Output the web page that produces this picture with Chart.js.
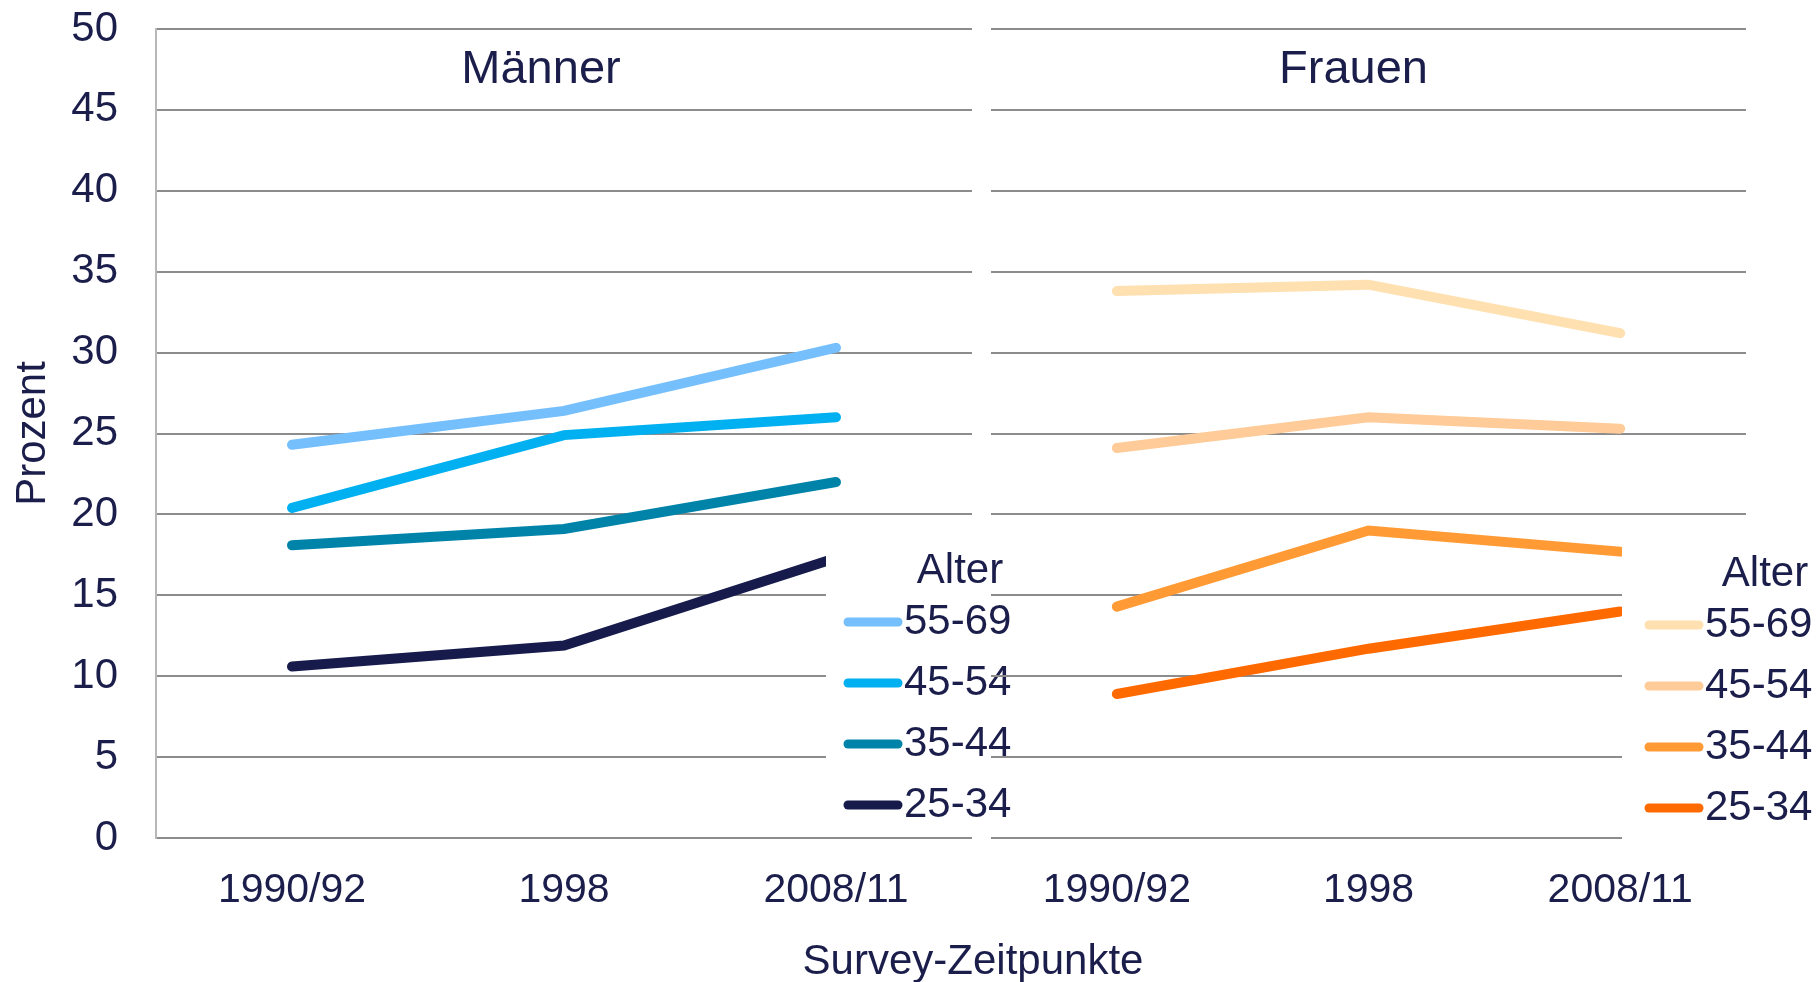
<!DOCTYPE html>
<html>
<head>
<meta charset="UTF-8">
<title>Prozent nach Alter und Geschlecht</title>
<script src="https://cdn.jsdelivr.net/npm/chart.js@4.4.0/dist/chart.umd.min.js"></script>
<style>
  body { margin: 0; background: #fff; width: 1818px; height: 982px; position: relative; overflow: hidden;
         font-family: "Liberation Sans", Arial, sans-serif; }
  #men { position: absolute; left: 0; top: 0; }
  #women { position: absolute; left: 960px; top: 0; }
  #xtitle { position: absolute; left: 973px; top: 935px; transform: translateX(-50%);
            font-size: 42px; line-height: 50px; color: #1b1e4b; white-space: nowrap; }
</style>
</head>
<body>
<canvas id="men" width="1030" height="982"></canvas>
<canvas id="women" width="858" height="982"></canvas>
<div id="xtitle">Survey-Zeitpunkte</div>

<script>
// --- data ---
var zeitpunkte = ['1990/92', '1998', '2008/11'];
var altersgruppen = ['55-69', '45-54', '35-44', '25-34'];
var yTicks = [0, 5, 10, 15, 20, 25, 30, 35, 40, 45, 50];

var maenner_55_69 = [24.3, 26.4, 30.3];
var maenner_45_54 = [20.4, 24.9, 26.0];
var maenner_35_44 = [18.1, 19.1, 22.0];
var maenner_25_34 = [10.6, 11.9, 17.3];

var frauen_55_69 = [33.8, 34.2, 31.2];
var frauen_45_54 = [24.1, 26.0, 25.3];
var frauen_35_44 = [14.3, 19.0, 17.7];
var frauen_25_34 = [8.9, 11.7, 14.0];

var maennerFarben = ['#75bffc', '#00b0f0', '#0083a9', '#161b4b'];
var frauenFarben = ['#ffe0b0', '#ffcb99', '#ff9a35', '#ff6a00'];

var navy = '#1b1e4b';
var gridGrau = '#8c8c8c';
Chart.defaults.font.family = '"Liberation Sans", Arial, sans-serif';

function makeSets(values, colors) {
  return values.map(function (v, i) {
    return {
      label: altersgruppen[i],
      data: v,
      borderColor: colors[i],
      backgroundColor: colors[i],
      borderWidth: 10,
      borderCapStyle: 'round',
      pointRadius: 0,
      tension: 0,
      fill: false
    };
  });
}

// panel title + legend box drawn over the plot (like the excel original)
var panelPlugin = {
  id: 'panel',
  afterDatasetsDraw: function (chart, args, o) {
    var ctx = chart.ctx, a = chart.chartArea;
    ctx.save();
    ctx.fillStyle = navy;
    ctx.textAlign = 'center';
    ctx.textBaseline = 'middle';
    ctx.font = '47px "Liberation Sans", Arial, sans-serif';
    ctx.fillText(o.title, (a.left + a.right) / 2 + o.titleDx, a.top + 41);

    ctx.fillStyle = '#fff';
    ctx.fillRect(a.right + o.boxDx, a.bottom - 293, chart.width, 293 + o.boxBottom);

    ctx.font = '42px "Liberation Sans", Arial, sans-serif';
    ctx.fillStyle = navy;
    ctx.fillText('Alter', a.right + o.alterDx, a.bottom - 267 + o.dy);

    chart.data.datasets.forEach(function (ds, i) {
      var y = a.bottom - 216 + i * 61 + o.dy;
      ctx.strokeStyle = ds.borderColor;
      ctx.lineWidth = 9;
      ctx.lineCap = 'round';
      ctx.beginPath();
      ctx.moveTo(a.right + o.sampleDx + 4, y);
      ctx.lineTo(a.right + o.sampleDx + 54, y);
      ctx.stroke();
      ctx.fillStyle = navy;
      ctx.textAlign = 'left';
      ctx.fillText(ds.label, a.right + o.textDx, y);
    });
    ctx.restore();
  }
};

function options(left, legendOpts) {
  return {
    responsive: false,
    animation: false,
    layout: { padding: left ? { left: 0, right: 58, top: 29, bottom: 0 }
                             : { left: 31, right: 72, top: 29, bottom: 0 } },
    plugins: {
      legend: { display: false },
      tooltip: { enabled: false },
      panel: legendOpts
    },
    scales: {
      x: {
        offset: true,
        grid: { display: false, drawTicks: false },
        border: { display: false },
        ticks: { padding: 28, color: navy, font: { size: 41 } },
        afterFit: function (s) { s.height = 144; s.paddingLeft = 0; s.paddingRight = 0; }
      },
      y: {
        min: 0,
        max: 50,
        afterBuildTicks: function (s) { s.ticks = yTicks.map(function (v) { return { value: v }; }); },
        ticks: { display: left, padding: 38, color: navy, font: { size: 42 } },
        grid: { color: gridGrau, lineWidth: 2, drawTicks: false },
        border: { display: left, color: '#b8b8b8', width: 2 },
        title: { display: left, text: 'Prozent', color: navy, font: { size: 42 }, padding: { top: 8, bottom: 0 } },
        afterFit: function (s) { s.width = left ? 156 : 0; s.paddingTop = 0; s.paddingBottom = 0; }
      }
    }
  };
}

new Chart(document.getElementById('men'), {
  type: 'line',
  data: {
    labels: zeitpunkte,
    datasets: makeSets([maenner_55_69, maenner_45_54, maenner_35_44, maenner_25_34], maennerFarben)
  },
  options: options(true, { title: 'Männer', titleDx: -23, boxDx: -146, boxBottom: -6,
                           alterDx: -12, sampleDx: -128, textDx: -68, dy: 0 }),
  plugins: [panelPlugin]
});

new Chart(document.getElementById('women'), {
  type: 'line',
  data: {
    labels: zeitpunkte,
    datasets: makeSets([frauen_55_69, frauen_45_54, frauen_35_44, frauen_25_34], frauenFarben)
  },
  options: options(false, { title: 'Frauen', titleDx: -15, boxDx: -124, boxBottom: 8,
                            alterDx: 19, sampleDx: -101, textDx: -41, dy: 3 }),
  plugins: [panelPlugin]
});
</script>
</body>
</html>
